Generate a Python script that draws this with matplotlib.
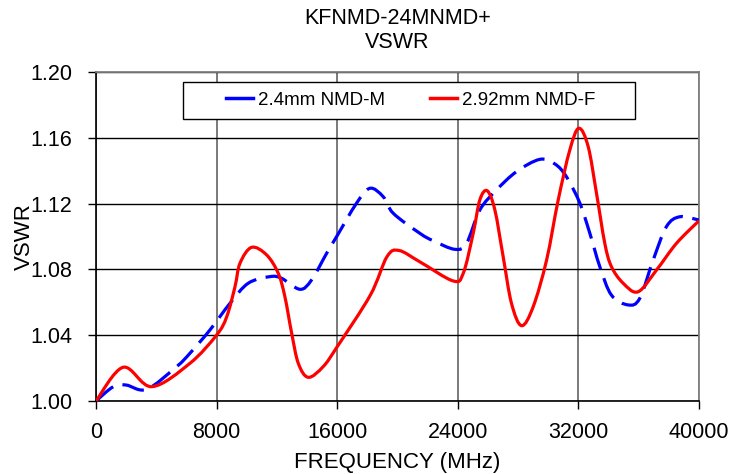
import matplotlib
matplotlib.use("Agg")
import matplotlib.pyplot as plt
from matplotlib.path import Path
from matplotlib.patches import PathPatch, Rectangle
from matplotlib.lines import Line2D

plt.rcParams['font.family'] = ['Liberation Sans', 'DejaVu Sans']

# ---- data ----
freq_m = [0, 1150, 2000, 3360, 5350, 6230, 7560, 8890, 10100, 11540, 12310,
          13530, 14300, 15300, 15960, 17280, 18170, 19050, 19720, 21490, 22370,
          23810, 24580, 25460, 26570, 27890, 29440, 30440, 31210, 32100, 32760,
          33420, 34190, 35300, 36070, 36960, 37840, 38730, 40000]
vswr_m = [1.000, 1.0087, 1.0097, 1.0071, 1.0209, 1.0290, 1.0432, 1.0594, 1.0716,
          1.0756, 1.0746, 1.0679, 1.0736, 1.0898, 1.0999, 1.1202, 1.1293, 1.1242,
          1.1141, 1.1019, 1.0974, 1.0922, 1.0959, 1.1161, 1.1283, 1.1394, 1.1469,
          1.1441, 1.1363, 1.1202, 1.1019, 1.0817, 1.0644, 1.0584, 1.0624, 1.0857,
          1.1060, 1.1120, 1.1100]

freq_f = [0, 1800, 3700, 6230, 8000, 8670, 9220, 9550, 10320, 11320, 12090,
          12530, 12980, 13420, 14080, 15070, 16000, 18200, 19300, 20100, 21500,
          23690, 24360, 25020, 25460, 25950, 26460, 27010, 27560, 28230,
          29000, 29890, 30660, 31430, 32030, 32650, 33200, 33750, 34190, 34970,
          35960, 37180, 38510, 40000]
vswr_f = [1.000, 1.0205, 1.0087, 1.0229, 1.0401, 1.0512, 1.0695, 1.0837, 1.0934,
          1.0888, 1.0776, 1.0634, 1.0412, 1.0229, 1.0144, 1.0209, 1.0330, 1.0644,
          1.0877, 1.0915, 1.0845, 1.0730, 1.0776, 1.1019, 1.1222, 1.1278,
          1.1161, 1.0877, 1.0594, 1.0458, 1.0573, 1.0857, 1.1222, 1.1526, 1.1658,
          1.1546, 1.1263, 1.0959, 1.0817, 1.0716, 1.0664, 1.0796, 1.0959, 1.1096]

labels = ["2.4mm NMD-M", "2.92mm NMD-F"]
colors = ["#0000FF", "#FF0000"]
xticks = [0, 8000, 16000, 24000, 32000, 40000]
yticks = [1.00, 1.04, 1.08, 1.12, 1.16, 1.20]


def smooth_path(xs, ys):
    """Catmull-Rom smoothing (Excel-like) as cubic Bezier path."""
    n = len(xs)
    verts = [(xs[0], ys[0])]
    codes = [Path.MOVETO]
    for i in range(n - 1):
        x0, y0 = (xs[i - 1], ys[i - 1]) if i > 0 else (xs[i], ys[i])
        x1, y1 = xs[i], ys[i]
        x2, y2 = xs[i + 1], ys[i + 1]
        x3, y3 = (xs[i + 2], ys[i + 2]) if i + 2 < n else (x2, y2)
        c1 = (x1 + (x2 - x0) / 6.0, y1 + (y2 - y0) / 6.0)
        c2 = (x2 - (x3 - x1) / 6.0, y2 - (y3 - y1) / 6.0)
        verts += [c1, c2, (x2, y2)]
        codes += [Path.CURVE4] * 3
    return Path(verts, codes)


fig = plt.figure(figsize=(7.45, 4.74), dpi=100)
ax = fig.add_axes([96 / 745, 73 / 474, 603 / 745, 329 / 474])

ax.set_xlim(0, 40000)
ax.set_ylim(1.00, 1.20)
ax.set_xticks(xticks)
ax.set_yticks(yticks)
ax.set_xticklabels([str(t) for t in xticks])
ax.set_yticklabels([f"{t:.2f}" for t in yticks])
ax.tick_params(axis='both', direction='out', length=6, width=1, labelsize=15.5,
               colors='black')
ax.tick_params(axis='y', pad=11)
ax.tick_params(axis='x', pad=9)

# grid
ax.yaxis.grid(True, color='black', linewidth=1.0)
ax.xaxis.grid(True, color='#707070', linewidth=1.3)
ax.set_axisbelow(True)
for side in ['left', 'bottom']:
    ax.spines[side].set_color('black')
    ax.spines[side].set_linewidth(1.2)
for side in ['right', 'top']:
    ax.spines[side].set_color('#808080')
    ax.spines[side].set_linewidth(1.3)

# curves
pm = PathPatch(smooth_path(freq_m, vswr_m), facecolor='none', edgecolor=colors[0],
               linewidth=2.3, linestyle=(0, (7, 3)), capstyle='butt', zorder=3)
pf = PathPatch(smooth_path(freq_f, vswr_f), facecolor='none', edgecolor=colors[1],
               linewidth=2.3, linestyle='-', zorder=4)
ax.add_patch(pm)
ax.add_patch(pf)

# labels and title
ax.set_xlabel("FREQUENCY (MHz)", fontsize=16)
ax.xaxis.set_label_coords(0.5, -0.155)
ax.set_ylabel("VSWR", fontsize=16)
ax.yaxis.set_label_coords(-0.101, 0.5)
fig.text(397.5 / 745, 1 - 19 / 474, "KFNMD-24MNMD+", ha='center', va='center', fontsize=15.5)
fig.text(397.5 / 745, 1 - 43 / 474, "VSWR", ha='center', va='center', fontsize=15.5)

# legend box
fig.patches.append(Rectangle((183 / 745, 1 - 119 / 474), (635 - 183) / 745, 37 / 474,
                             transform=fig.transFigure, facecolor='white',
                             edgecolor='black', linewidth=1.0, zorder=5))
handles = [Line2D([], [], color=colors[0], lw=2.5),
           Line2D([], [], color=colors[1], lw=2.5)]
leg = fig.legend(handles, labels, loc='center', ncol=2,
                 bbox_to_anchor=(411 / 745, 1 - 100 / 474), frameon=False,
                 fontsize=13.5, handlelength=1.4, handletextpad=0.3,
                 columnspacing=2.4)
leg.set_zorder(6)

fig.savefig("out.png", dpi=100)
